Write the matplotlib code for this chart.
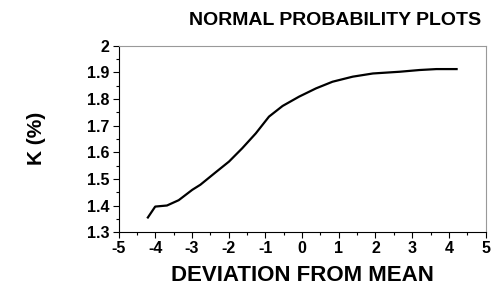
import matplotlib
matplotlib.use('Agg')
import matplotlib.pyplot as plt
from matplotlib.ticker import MultipleLocator

plt.rcParams['font.family'] = ['Liberation Sans', 'DejaVu Sans']
plt.rcParams['font.weight'] = 'bold'
plt.rcParams['axes.unicode_minus'] = False

# values
deviation = [-4.20, -4.00, -3.68, -3.36, -2.99, -2.77, -2.36, -1.99, -1.63, -1.26,
             -0.90, -0.53, -0.08, 0.38, 0.83, 1.38, 1.93, 2.66, 3.20, 3.66, 4.21]
k_percent = [1.355, 1.396, 1.400, 1.420, 1.459, 1.478, 1.524, 1.565, 1.615, 1.671,
             1.734, 1.774, 1.809, 1.840, 1.865, 1.884, 1.896, 1.9025, 1.909, 1.9125, 1.9125]
y_ticks = [1.3, 1.4, 1.5, 1.6, 1.7, 1.8, 1.9, 2.0]
y_tick_labels = ['1.3', '1.4', '1.5', '1.6', '1.7', '1.8', '1.9', '2']

fig = plt.figure(figsize=(4.95, 2.88), dpi=100)
ax = fig.add_axes([0.2394, 0.194, 0.7416, 0.647])

ax.plot(deviation, k_percent, color='k', linewidth=1.6)

ax.set_xlim(-5, 5)
ax.set_ylim(1.3, 2.0)
ax.xaxis.set_major_locator(MultipleLocator(1))
ax.xaxis.set_minor_locator(MultipleLocator(0.5))
ax.set_yticks(y_ticks, y_tick_labels)
ax.yaxis.set_minor_locator(MultipleLocator(0.05))
ax.tick_params(which='both', direction='out', labelsize=11.5, width=0.8, colors='k')
ax.tick_params(which='major', length=4.5, pad=2)
ax.tick_params(which='minor', length=2.5)
for lab in ax.get_xticklabels() + ax.get_yticklabels():
    lab.set_fontweight('bold')
for s in ['top', 'right']:
    ax.spines[s].set_color('#999999')

fig.text(0.61, 0.042, 'DEVIATION FROM MEAN', ha='center', va='center', fontsize=16, fontweight='bold')
fig.text(0.073, 0.52, 'K (%)', ha='center', va='center', rotation=90, fontsize=15, fontweight='bold')
fig.text(0.677, 0.93, 'NORMAL PROBABILITY PLOTS', ha='center', va='center', fontsize=14, fontweight='bold')

plt.savefig('out.png', dpi=100)
